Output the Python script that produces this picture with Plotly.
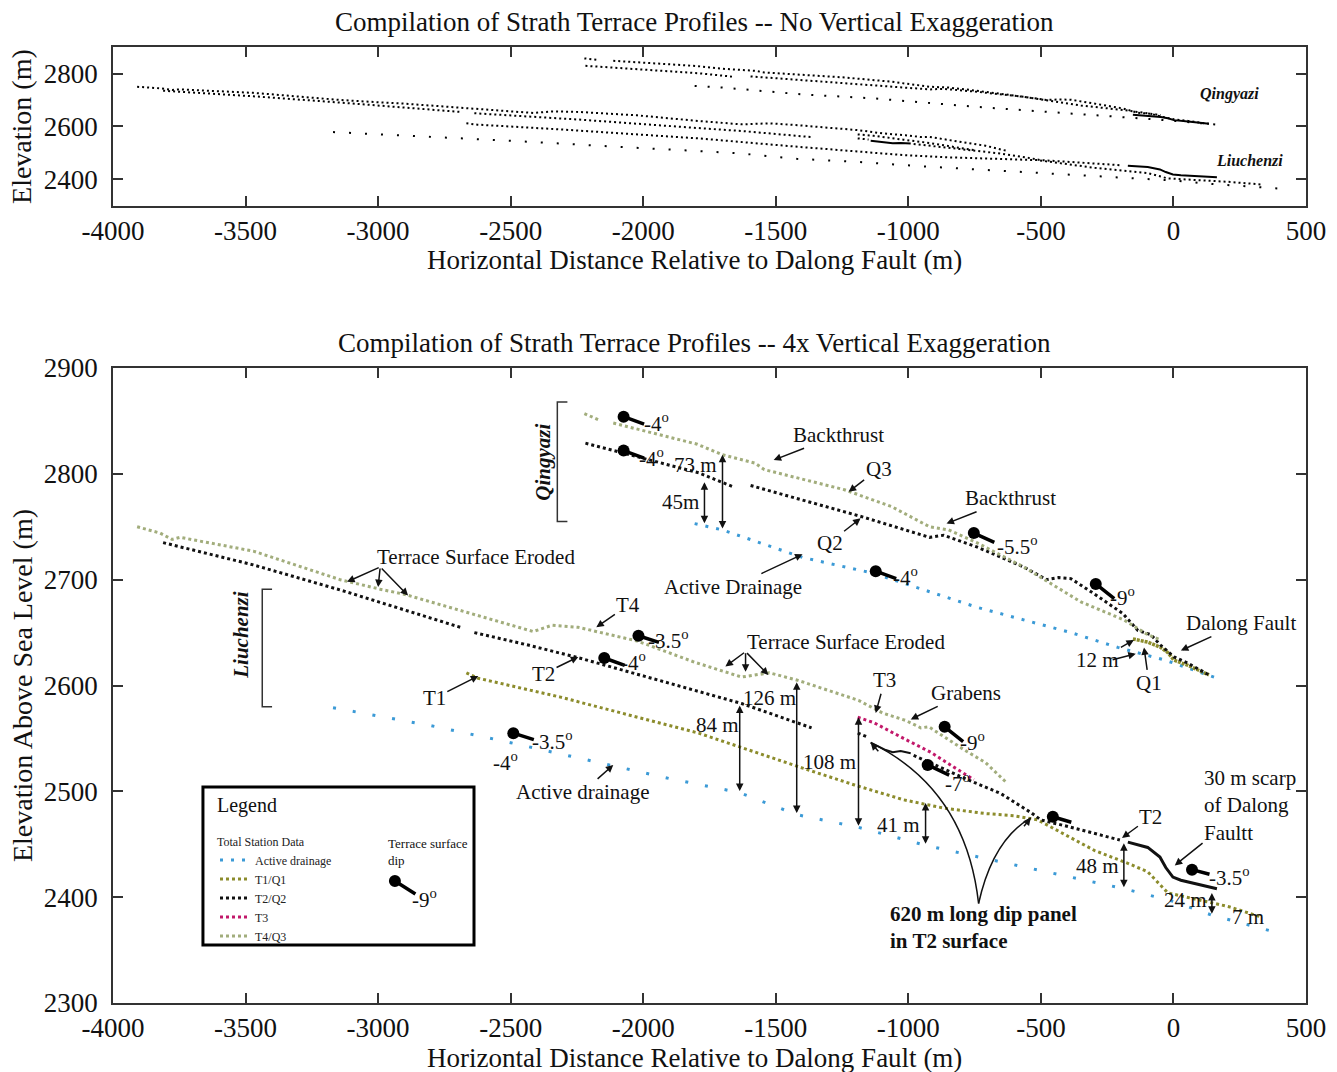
import plotly.graph_objects as go

FONT = "Liberation Serif"

# ---------------- data ----------------
x_ticks = [-4000, -3500, -3000, -2500, -2000, -1500, -1000, -500, 0, 500]
x_tick_labels = ["-4000", "-3500", "-3000", "-2500", "-2000", "-1500", "-1000", "-500", "0", "500"]
y_ticks_top = [2400, 2600, 2800]
y_ticks_bottom = [2300, 2400, 2500, 2600, 2700, 2800, 2900]

# Liuchenzi profiles
liu_drain_x = [-3170, -2800, -2500, -2124, -1900, -1640, -1421, -1188, -935, -700, -450, -187, 0, 145, 250, 413]
liu_drain_y = [2579, 2562, 2546, 2525, 2512, 2499, 2478, 2466, 2449, 2436, 2422, 2408, 2396, 2383, 2376, 2365]

liu_t1_x = [-2667, -2625, -2312, -1791, -1399, -1203, -1018, -863, -708, -603, -512, -297, -172, -97, -21, 209, 334]
liu_t1_y = [2612, 2607, 2589, 2555, 2522, 2506, 2492, 2484, 2479, 2477, 2473, 2444, 2432, 2424, 2404, 2391, 2381]

liu_t2_x = [-3811, -3471, -3139, -2690, None, -2637, -2430, -2241, -1792, -1629, -1365, None,
            -1191, -1150, None, -980, -776, -652, -538, -500, -402, -202]
liu_t2_y = [2735, 2714, 2690, 2655, None, 2650, 2638, 2626, 2594, 2583, 2560, None,
            2555, 2551, None, 2534, 2511, 2498, 2480, 2473, 2467, 2454]

liu_t2_panel_x = [-1142, -1115, -1085, -1059, -1029, -991]
liu_t2_panel_y = [2546, 2543, 2539, 2537, 2538, 2536]

liu_t2_scarp_x = [-172, -97, -51, -29, -2, 28, 164]
liu_t2_scarp_y = [2452, 2447, 2438, 2428, 2419, 2416, 2408]

liu_t3_x = [-1191, -1131, -1018, -916, -829, -753]
liu_t3_y = [2570, 2565, 2550, 2537, 2523, 2511]

liu_t4_x = [-3909, -3822, -3777, -3747, -3471, -3143, -2992, -2898, -2415, -2343, -2245, -2022,
            -1806, -1629, -1524, -1418, -1188, -1097, -1010, -953, -923, -863, -788, -708, -633]
liu_t4_y = [2750, 2744, 2738, 2740, 2727, 2700, 2691, 2686, 2651, 2657, 2655, 2642,
            2622, 2608, 2612, 2605, 2586, 2574, 2567, 2560, 2561, 2551, 2539, 2527, 2509]

# Qingyazi profiles
qin_drain_x = [-1806, -1701, -1399, -1131, -742, -387, -210, -32, 164]
qin_drain_y = [2753, 2747, 2721, 2706, 2674, 2650, 2636, 2624, 2607]

qin_q1_x = [-153, -97, -48, -21, 2, 55, 134]
qin_q1_y = [2644, 2641, 2636, 2631, 2624, 2619, 2610]

qin_q2_x = [-2218, -1791, -1663, None, -1595, -1168, -920, -867, -742, -565, -478, -433, -387,
            -301, -191, -134, -85, -48, 2, 55, 134]
qin_q2_y = [2829, 2801, 2788, None, 2789, 2759, 2740, 2742, 2731, 2712, 2700, 2702, 2701,
            2687, 2668, 2652, 2648, 2638, 2627, 2621, 2610]

qin_q3_x = [-2222, -2169, None, -2113, -1796, -1701, -1577, -1543, -1241, -1063, -920, -848,
            -742, -565, -349, -187, -97, -48]
qin_q3_y = [2857, 2851, None, 2848, 2828, 2818, 2810, 2804, 2785, 2769, 2750, 2747,
            2735, 2712, 2679, 2662, 2648, 2643]

# terrace surface dips
dip_x = [-2074, -2074, -753, -1123, -293, -2018, -2147, -2490, -863, -927, -455, 70]
dip_y = [2854, 2822, 2744, 2708, 2696, 2647, 2626, 2555, 2561, 2525, 2476, 2426]
dip_label = ["-4", "-4", "-5.5", "-4", "-9", "-3.5", "-4", "-3.5", "-9", "-7", "", "-3.5"]

# vertical separations
meas_x = [-1701, -1769, -1421, -1636, -1188, -935, -187, 145]
meas_top = [2818, 2792, 2603, 2581, 2570, 2489, 2451, 2404]
meas_bot = [2747, 2752, 2478, 2499, 2466, 2449, 2408, 2383]
meas_label = ["73 m", "45m", "126 m", "84 m", "108 m", "41 m", "48 m", "24 m"]
meas_label_x = [-1803, -1859, -1523, -1720, -1297, -1037, -285, 47]
meas_label_y = [2808, 2773, 2588, 2563, 2528, 2468, 2429, 2397]

# ---------------- styles ----------------
C_DRAIN = "#3b9ad6"
C_T1 = "#8c8c2c"
C_T2 = "#111111"
C_T3 = "#c2186a"
C_T4 = "#a2ad7c"
TXT = "#111111"
ANN_SIZE = 21

stick_dx = [22, 22, 22, 22, 20, 22, 22, 22, 20, 23, 20, 19]
stick_dy = [8, 8, 10, 8, 16, 7, 8, 7, 16, 11, 6, 5]
lab_dx = [33, 28, 44, 30, 27, 30, 29, 39, 28, 30, 0, 37]
lab_dy = [-6, -7, -12, -5, -13, -4, -4, -7, -15, -18, 0, -7]

fig = go.Figure()


def add_profile(x, y, color, dash_b, dash_t, name=None, show=False, rank=None, width_b=3.0, width_t=2.0):
    fig.add_trace(go.Scatter(
        x=x, y=y, mode="lines", xaxis="x2", yaxis="y2",
        line=dict(color=color, width=width_b, dash=dash_b),
        name=name, showlegend=show, legendrank=rank if rank else 1000,
        hoverinfo="skip", connectgaps=False))
    fig.add_trace(go.Scatter(
        x=x, y=y, mode="lines", xaxis="x", yaxis="y",
        line=dict(color="black", width=width_t, dash=dash_t),
        showlegend=False, hoverinfo="skip", connectgaps=False))


# legend-showing traces first
add_profile(qin_drain_x, qin_drain_y, C_DRAIN, "3px,8px", "2px,11px", "Active drainage", True, 1)
add_profile(liu_drain_x, liu_drain_y, C_DRAIN, "3px,17px", "2px,14px")
add_profile(liu_t1_x, liu_t1_y, C_T1, "3px,3px", "2px,3px", "T1/Q1", True, 2)
add_profile(qin_q1_x, qin_q1_y, C_T1, "3px,1px", "solid", width_b=3.5, width_t=2)
add_profile(qin_q2_x, qin_q2_y, C_T2, "3px,3px", "2px,3px", "T2/Q2", True, 3)
add_profile(liu_t2_x, liu_t2_y, C_T2, "3px,3px", "2px,3px")
add_profile(liu_t2_panel_x, liu_t2_panel_y, C_T2, "solid", "solid", width_b=2, width_t=2)
add_profile(liu_t2_scarp_x, liu_t2_scarp_y, C_T2, "solid", "solid", width_b=3, width_t=2)
add_profile(liu_t3_x, liu_t3_y, C_T3, "3px,3px", "2px,3px", "T3", True, 4)
add_profile(qin_q3_x, qin_q3_y, C_T4, "3px,3px", "2px,3px", "T4/Q3", True, 5)
add_profile(liu_t4_x, liu_t4_y, C_T4, "3px,3px", "2px,3px")

# dip symbols (balls)
fig.add_trace(go.Scatter(x=dip_x, y=dip_y, mode="markers", xaxis="x2", yaxis="y2",
                         marker=dict(color="black", size=12), showlegend=False, hoverinfo="skip"))

axis_common = dict(showline=True, linecolor="#333", linewidth=1.5, mirror="ticks", ticks="inside",
                   ticklen=10, tickwidth=1.5, tickcolor="#333", showgrid=False, zeroline=False,
                   tickfont=dict(family=FONT, size=27, color=TXT))

fig.update_layout(
    width=1337, height=1072,
    margin=dict(l=113, r=31, t=47, b=69),
    paper_bgcolor="white", plot_bgcolor="white",
    xaxis=dict(domain=[0, 1], anchor="y", range=[-4000, 500], tickvals=x_ticks, ticktext=x_tick_labels,
               **axis_common),
    yaxis=dict(domain=[0.8337, 1], anchor="x", range=[2300, 2900], tickvals=y_ticks_top,
               ticklabelstandoff=8, **axis_common),
    xaxis2=dict(domain=[0, 1], anchor="y2", range=[-4000, 500], tickvals=x_ticks, ticktext=x_tick_labels,
                **axis_common),
    yaxis2=dict(domain=[0, 0.6642], anchor="x2", range=[2300, 2900], tickvals=y_ticks_bottom,
                ticklabelstandoff=8, **axis_common),
    showlegend=True,
    legend=dict(x=0.0855, y=0.181, xanchor="left", yanchor="top",
                font=dict(family=FONT, size=12, color="#222"),
                title=dict(text="Total Station Data", font=dict(family=FONT, size=12, color="#222")),
                bgcolor="rgba(0,0,0,0)", borderwidth=0, tracegroupgap=0, itemwidth=30,
                traceorder="normal"),
    font=dict(family=FONT, color=TXT),
)

ann = []
shapes = []


def txt(text, x, y, size=ANN_SIZE, xref="x2", yref="y2", **kw):
    d = dict(text=text, x=x, y=y, xref=xref, yref=yref, showarrow=False,
             xanchor="center", yanchor="middle",
             font=dict(family=FONT, size=size, color=TXT))
    d.update(kw)
    ann.append(d)


def arrow_txt(text, tx, ty, px, py, size=ANN_SIZE, **kw):
    d = dict(text=text, x=px, y=py, ax=tx, ay=ty, xref="x2", yref="y2", axref="x2", ayref="y2",
             showarrow=True, arrowhead=2, arrowsize=1, arrowwidth=1.5, arrowcolor=TXT,
             font=dict(family=FONT, size=size, color=TXT))
    d.update(kw)
    ann.append(d)


# titles & axis titles
txt("Compilation of Strath Terrace Profiles -- No Vertical Exaggeration", 0.4878, 1.0262, 27, "paper", "paper")
txt("Compilation of Strath Terrace Profiles -- 4x Vertical Exaggeration", 0.4878, 0.6904, 27, "paper", "paper")
txt("Horizontal Distance Relative to Dalong Fault (m)", 0.4878, 0.7772, 27, "paper", "paper")
txt("Horizontal Distance Relative to Dalong Fault (m)", 0.4878, -0.0575, 27, "paper", "paper")
txt("Elevation (m)", -0.0763, 0.9174, 28, "paper", "paper", textangle=-90)
txt("Elevation Above Sea Level (m)", -0.0763, 0.3326, 28, "paper", "paper", textangle=-90)

# top panel labels
txt("<b><i>Qingyazi</i></b>", 210, 2722, 16, "x", "y")
txt("<b><i>Liuchenzi</i></b>", 285, 2473, 16, "x", "y")

# site labels & brackets
txt("<b><i>Qingyazi</i></b>", -2376, 2811, 21, textangle=-90)
txt("<b><i>Liuchenzi</i></b>", -3517, 2648, 21, textangle=-90)
for bx, by0, by1, bx1 in [(-2324, 2868, 2755, -2286), (-3437, 2691, 2580, -3400)]:
    shapes.append(dict(type="path", xref="x2", yref="y2",
                       path=f"M {bx1},{by0} L {bx},{by0} L {bx},{by1} L {bx1},{by1}",
                       line=dict(color="#333", width=1.5)))

# arrows with text
arrow_txt("Backthrust", -1263, 2837, -1508, 2813)
arrow_txt("Q3", -1112, 2805, -1225, 2783)
arrow_txt("Backthrust", -614, 2777, -856, 2753)
arrow_txt("Q2", -1297, 2735, -1180, 2758)
arrow_txt("Active Drainage", -1663, 2693, -1399, 2724)
arrow_txt("Dalong Fault", 254, 2659, 28, 2633)
arrow_txt("12 m", -285, 2624, -149, 2643)
arrow_txt("", -235, 2624, -142, 2630)
arrow_txt("Q1", -92, 2602, -111, 2636)
arrow_txt("T4", -2056, 2676, -2177, 2655)
arrow_txt("T2", -2376, 2611, -2245, 2627)
arrow_txt("T1", -2788, 2588, -2622, 2609)
arrow_txt("T3", -1089, 2605, -1123, 2574)
arrow_txt("Grabens", -783, 2593, -991, 2568)
arrow_txt("Active drainage", -2229, 2499, -2113, 2525)
arrow_txt("T2", -85, 2476, -194, 2456)
arrow_txt("30 m scarp<br>of Dalong<br>Faultt", 289, 2487, 5, 2430, align="left")

# terrace surface eroded (arrow fans)
txt("Terrace Surface Eroded", -2630, 2721)
for tipx, tipy in [(-3117, 2698), (-3000, 2693), (-2887, 2685)]:
    arrow_txt("", -2992, 2712, tipx, tipy)
txt("Terrace Surface Eroded", -1237, 2641)
for tipx, tipy in [(-1690, 2618), (-1614, 2613), (-1528, 2610)]:
    arrow_txt("", -1614, 2632, tipx, tipy)

# measurement arrows
for mx, mt, mb, ml, lx, ly in zip(meas_x, meas_top, meas_bot, meas_label, meas_label_x, meas_label_y):
    ann.append(dict(text="", x=mx, y=mt, ax=mx, ay=mb, xref="x2", yref="y2", axref="x2", ayref="y2",
                    showarrow=True, arrowhead=2, arrowsize=1, arrowwidth=1.5, arrowcolor=TXT,
                    arrowside="end+start"))
    txt(ml, lx, ly)
txt("7 m", 281, 2381)
txt("-4<sup>o</sup>", -2520, 2528)

# dip panel annotation
txt("<b>620 m long dip panel<br>in T2 surface</b>", -716, 2371, 21, align="left")
shapes.append(dict(type="path", xref="x2", yref="y2",
                   path="M -735,2394 Q -783,2502 -1142,2546", line=dict(color=TXT, width=1.5)))
shapes.append(dict(type="path", xref="x2", yref="y2",
                   path="M -735,2394 Q -682,2454 -538,2475", line=dict(color=TXT, width=1.5)))
ann.append(dict(text="", x=-1142, y=2546, ax=9, ay=10, xref="x2", yref="y2", showarrow=True,
                arrowhead=2, arrowsize=1, arrowwidth=1.5, arrowcolor=TXT))
ann.append(dict(text="", x=-538, y=2475, ax=-8, ay=10, xref="x2", yref="y2", showarrow=True,
                arrowhead=2, arrowsize=1, arrowwidth=1.5, arrowcolor=TXT))

# dip sticks and labels
for dx_, dy_, lab, sx, sy, lx, ly in zip(dip_x, dip_y, dip_label, stick_dx, stick_dy, lab_dx, lab_dy):
    ann.append(dict(text="", x=dx_, y=dy_, ax=sx, ay=sy, xref="x2", yref="y2", showarrow=True,
                    arrowhead=0, arrowwidth=3.5, arrowcolor="black"))
    if lab:
        txt(lab + "<sup>o</sup>", dx_, dy_, 21, xshift=lx, yshift=ly)

# legend box
shapes.append(dict(type="rect", xref="paper", yref="paper", x0=0.0754, x1=0.3026, y0=0.0607, y1=0.2259,
                   line=dict(color="black", width=3), fillcolor="white", layer="below"))
txt("Legend", 0.0855, 0.2071, 20, "paper", "paper", xanchor="left")
txt("Terrace surface<br>dip", 0.2288, 0.158, 13, "paper", "paper", xanchor="left", align="left")
shapes.append(dict(type="circle", xref="paper", yref="paper", xsizemode="pixel", ysizemode="pixel",
                   xanchor=0.2363, yanchor=0.1276, x0=-6, x1=6, y0=-6, y1=6,
                   fillcolor="black", line=dict(color="black", width=0)))
ann.append(dict(text="", x=0.2363, y=0.1276, ax=22, ay=14, xref="paper", yref="paper", showarrow=True,
                arrowhead=0, arrowwidth=3.5, arrowcolor="black"))
txt("-9<sup>o</sup>", 0.2363, 0.1276, 21, "paper", "paper", xshift=30, yshift=-17)

fig.update_layout(annotations=ann, shapes=shapes)

fig.write_html("out.html", post_script="document.body.style.margin='0';",
               config={"displayModeBar": False})
